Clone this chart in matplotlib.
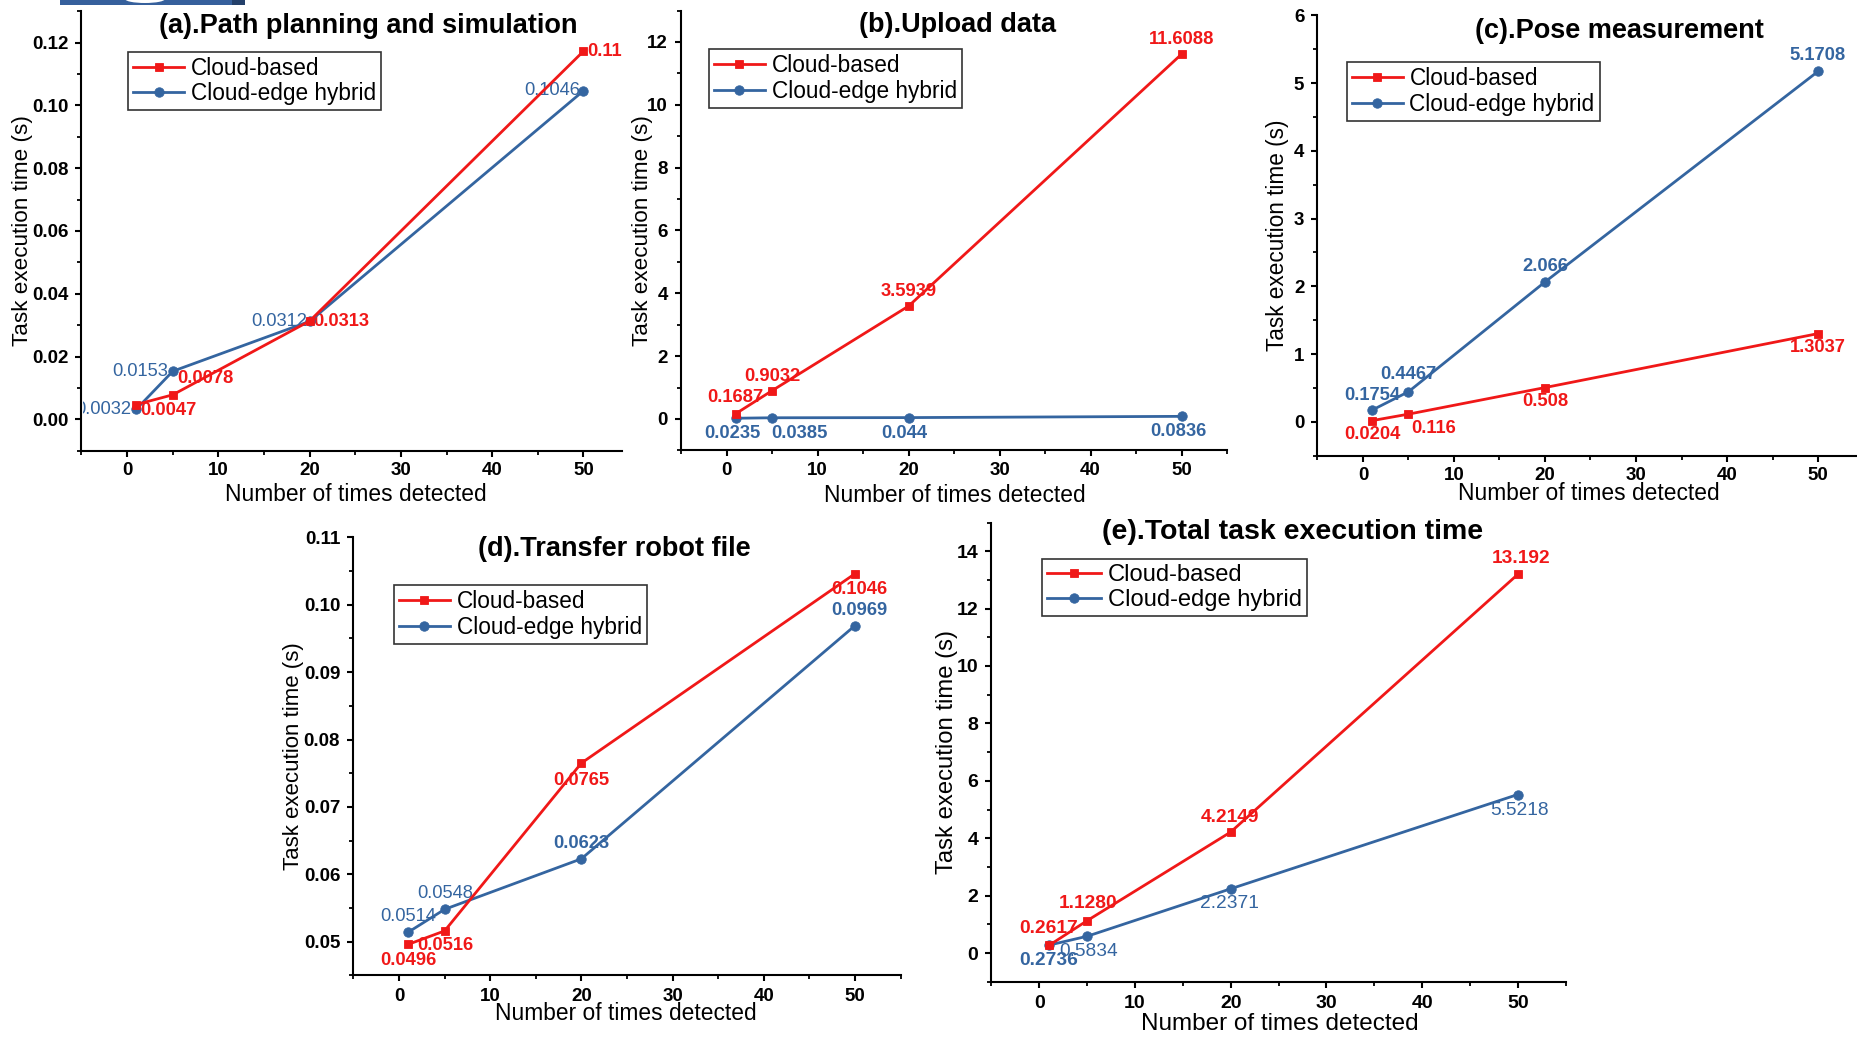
import matplotlib
matplotlib.use("Agg")
import matplotlib.pyplot as plt
from matplotlib.ticker import MultipleLocator
from matplotlib.patches import Rectangle, Ellipse
from matplotlib.transforms import Bbox, TransformedBbox

plt.rcParams['font.family'] = ['Liberation Sans', 'DejaVu Sans']

# ---------------- data ----------------
x_detect = [1, 5, 20, 50]
x_ticks = [0, 10, 20, 30, 40, 50]
series_names = ['Cloud-based', 'Cloud-edge hybrid']

# (a) Path planning and simulation
a_title = '(a).Path planning and simulation'
a_cloud = [0.0047, 0.0078, 0.0313, 0.1172]
a_hybrid = [0.0032, 0.0153, 0.0312, 0.1046]
a_cloud_lbl = ['0.0047', '0.0078', '0.0313', '0.11']
a_hybrid_lbl = ['0.0032', '0.0153', '0.0312', '0.1046']
a_yticks = [0.00, 0.02, 0.04, 0.06, 0.08, 0.10, 0.12]
a_yticklabels = ['0.00', '0.02', '0.04', '0.06', '0.08', '0.10', '0.12']

# (b) Upload data
b_title = '(b).Upload data'
b_cloud = [0.1687, 0.9032, 3.5939, 11.6088]
b_hybrid = [0.0235, 0.0385, 0.044, 0.0836]
b_cloud_lbl = ['0.1687', '0.9032', '3.5939', '11.6088']
b_hybrid_lbl = ['0.0235', '0.0385', '0.044', '0.0836']
b_yticks = [0, 2, 4, 6, 8, 10, 12]
b_yticklabels = ['0', '2', '4', '6', '8', '10', '12']

# (c) Pose measurement
c_title = '(c).Pose measurement'
c_cloud = [0.0204, 0.116, 0.508, 1.3037]
c_hybrid = [0.1754, 0.4467, 2.066, 5.1708]
c_cloud_lbl = ['0.0204', '0.116', '0.508', '1.3037']
c_hybrid_lbl = ['0.1754', '0.4467', '2.066', '5.1708']
c_yticks = [0, 1, 2, 3, 4, 5, 6]
c_yticklabels = ['0', '1', '2', '3', '4', '5', '6']

# (d) Transfer robot file
d_title = '(d).Transfer robot file'
d_cloud = [0.0496, 0.0516, 0.0765, 0.1046]
d_hybrid = [0.0514, 0.0548, 0.0623, 0.0969]
d_cloud_lbl = ['0.0496', '0.0516', '0.0765', '0.1046']
d_hybrid_lbl = ['0.0514', '0.0548', '0.0623', '0.0969']
d_yticks = [0.05, 0.06, 0.07, 0.08, 0.09, 0.10, 0.11]
d_yticklabels = ['0.05', '0.06', '0.07', '0.08', '0.09', '0.10', '0.11']

# (e) Total task execution time
e_title = '(e).Total task execution time'
e_cloud = [0.2617, 1.1280, 4.2149, 13.192]
e_hybrid = [0.2736, 0.5834, 2.2371, 5.5218]
e_cloud_lbl = ['0.2617', '1.1280', '4.2149', '13.192']
e_hybrid_lbl = ['0.2736', '0.5834', '2.2371', '5.5218']
e_yticks = [0, 2, 4, 6, 8, 10, 12, 14]
e_yticklabels = ['0', '2', '4', '6', '8', '10', '12', '14']

ylabel_text = 'Task execution time (s)'
xlabel_text = 'Number of times detected'

# ---------------- style / layout ----------------
RED = '#F01818'
BLUE = '#3465A0'
W, H = 1858, 1037

fig = plt.figure(figsize=(W / 100, H / 100), dpi=100)
fig.patch.set_facecolor('white')

# small cropped banner at the very top-left of the original picture
fig.patches.append(Rectangle((60 / W, 1 - 4.5 / H), 185 / W, 4.5 / H, transform=fig.transFigure,
                             facecolor='#36609C', edgecolor='none'))
fig.patches.append(Rectangle((232 / W, 1 - 4.5 / H), 13 / W, 4.5 / H, transform=fig.transFigure,
                             facecolor='#24406A', edgecolor='none'))
fig.patches.append(Ellipse((145 / W, 1 + 1 / H), 40 / W, 8 / H, transform=fig.transFigure,
                           facecolor='white', edgecolor='none'))

panels = [
    dict(title=a_title, cloud=a_cloud, hybrid=a_hybrid, clbl=a_cloud_lbl, hlbl=a_hybrid_lbl,
         yticks=a_yticks, yticklabels=a_yticklabels, minor=0.01,
         box=(81.5, 621.7, 11.1, 450.7), xlim=(-5, 54.2), ylim=(-0.01, 0.13),
         title_px=(368, 26), title_fs=19.5, leg_px=(128.3, 51.7), leg_fs=16.3,
         ylab_x=22.5, ylab_fs=16.2, xlab_px=(355.5, 494.5), xlab_fs=16.4,
         tick_fs=13.5, xpad=3.8, ann_fs=13.2,
         coff=[(4.5, -5.5, 'left'), (5, 16, 'left'), (4, 0, 'left'), (3.5, 0, 'left')],
         hoff=[(-5, 0, 'right'), (-5, 0, 'right'), (-2, 0, 'right'), (-3, 0, 'right')],
         hw=['normal'] * 4, clip_first_hybrid=True),
    dict(title=b_title, cloud=b_cloud, hybrid=b_hybrid, clbl=b_cloud_lbl, hlbl=b_hybrid_lbl,
         yticks=b_yticks, yticklabels=b_yticklabels, minor=1,
         box=(681.2, 1227.0, 10.5, 450.4), xlim=(-5, 55), ylim=(-1, 13),
         title_px=(958, 25), title_fs=19.5, leg_px=(709, 49.3), leg_fs=16.3,
         ylab_x=642.6, ylab_fs=16.2, xlab_px=(954.6, 495), xlab_fs=16.4,
         tick_fs=13.5, xpad=3.8, ann_fs=13.2,
         coff=[(0, 16, 'center'), (0, 14, 'center'), (0, 15, 'center'), (0, 15, 'center')],
         hoff=[(-3, -15.5, 'center'), (-1, -15.5, 'left'), (-4, -15.5, 'center'), (-3, -15.5, 'center')],
         hw=['bold'] * 4, clip_first_hybrid=False),
    dict(title=c_title, cloud=c_cloud, hybrid=c_hybrid, clbl=c_cloud_lbl, hlbl=c_hybrid_lbl,
         yticks=c_yticks, yticklabels=c_yticklabels, minor=0.5,
         box=(1317.5, 1863.5, 15.2, 455.9), xlim=(-5, 55), ylim=(-0.5, 6),
         title_px=(1619.6, 31), title_fs=19.5, leg_px=(1346.7, 62.3), leg_fs=16.3,
         ylab_x=1277.5, ylab_fs=16.3, xlab_px=(1589, 493), xlab_fs=16.4,
         tick_fs=13.5, xpad=3.5, ann_fs=13.2,
         coff=[(0, -14, 'center'), (3, -14, 'left'), (0, -14, 'center'), (0, -14, 'center')],
         hoff=[(0, 15, 'center'), (0, 17, 'center'), (0, 15, 'center'), (0, 16, 'center')],
         hw=['bold'] * 4, clip_first_hybrid=False),
    dict(title=d_title, cloud=d_cloud, hybrid=d_hybrid, clbl=d_cloud_lbl, hlbl=d_hybrid_lbl,
         yticks=d_yticks, yticklabels=d_yticklabels, minor=0.005,
         box=(353.4, 900.6, 537.3, 975.4), xlim=(-5, 55), ylim=(0.045, 0.11),
         title_px=(614.7, 549), title_fs=19.5, leg_px=(393.9, 585), leg_fs=16.3,
         ylab_x=293.6, ylab_fs=16.0, xlab_px=(626, 1013), xlab_fs=16.4,
         tick_fs=13.5, xpad=4.4, ann_fs=13.2,
         coff=[(0, -16, 'center'), (1, -15, 'center'), (0, -17, 'center'), (4, -16, 'center')],
         hoff=[(0, 16, 'center'), (1, 16, 'center'), (0, 15, 'center'), (4, 15, 'center')],
         hw=['normal', 'normal', 'bold', 'bold'], clip_first_hybrid=False),
    dict(title=e_title, cloud=e_cloud, hybrid=e_hybrid, clbl=e_cloud_lbl, hlbl=e_hybrid_lbl,
         yticks=e_yticks, yticklabels=e_yticklabels, minor=1,
         box=(991.5, 1565.6, 522.5, 981.7), xlim=(-5, 55), ylim=(-1, 15),
         title_px=(1292.6, 532), title_fs=20.5, leg_px=(1042, 559), leg_fs=17.1,
         ylab_x=947.4, ylab_fs=17.2, xlab_px=(1280, 1024), xlab_fs=17.5,
         tick_fs=14, xpad=5.0, ann_fs=13.8,
         coff=[(0, 17, 'center'), (1, 17, 'center'), (-1, 15, 'center'), (3, 16, 'center')],
         hoff=[(0, -15.5, 'center'), (1, -15.5, 'center'), (-1, -14.5, 'center'), (2, -16, 'center')],
         hw=['bold', 'normal', 'normal', 'normal'], clip_first_hybrid=False),
]


def fx(px):
    return px / W


def fy(py):
    return 1 - py / H


for p in panels:
    l, r, t, b = p['box']
    ax = fig.add_axes([l / W, 1 - b / H, (r - l) / W, (b - t) / H])
    ax.set_facecolor('none')
    ax.set_xlim(*p['xlim'])
    ax.set_ylim(*p['ylim'])

    for side in ('top', 'right'):
        ax.spines[side].set_visible(False)
    for side in ('left', 'bottom'):
        ax.spines[side].set_linewidth(1.5)
        ax.spines[side].set_color('black')

    ax.set_xticks(x_ticks)
    ax.set_xticklabels([str(v) for v in x_ticks], fontweight='bold', fontsize=p['tick_fs'])
    ax.set_yticks(p['yticks'])
    ax.set_yticklabels(p['yticklabels'], fontweight='bold', fontsize=p['tick_fs'])
    ax.xaxis.set_minor_locator(MultipleLocator(5))
    ax.yaxis.set_minor_locator(MultipleLocator(p['minor']))
    ax.tick_params(which='major', direction='out', length=4.5, width=1.5, color='black')
    ax.tick_params(which='minor', direction='out', length=3.0, width=1.3, color='black')
    ax.tick_params(axis='y', which='major', pad=5)
    ax.tick_params(axis='x', which='major', pad=p['xpad'])

    lc, = ax.plot(x_detect, p['cloud'], color=RED, lw=2.0, marker='s', markersize=6.2,
                  markeredgewidth=0.6, label=series_names[0], zorder=4, clip_on=False)
    lh, = ax.plot(x_detect, p['hybrid'], color=BLUE, lw=2.0, marker='o', markersize=6.8,
                  markeredgewidth=0.6, label=series_names[1], zorder=3, clip_on=False)

    for xi, yi, txt, (dx, dy, ha) in zip(x_detect, p['cloud'], p['clbl'], p['coff']):
        ax.annotate(txt, xy=(xi, yi), xytext=(dx, dy), textcoords='offset pixels',
                    ha=ha, va='center', color=RED, fontsize=p['ann_fs'], fontweight='bold',
                    zorder=2, annotation_clip=False)
    for k, (xi, yi, txt, (dx, dy, ha)) in enumerate(zip(x_detect, p['hybrid'], p['hlbl'], p['hoff'])):
        an = ax.annotate(txt, xy=(xi, yi), xytext=(dx, dy), textcoords='offset pixels',
                         ha=ha, va='center', color=BLUE, fontsize=p['ann_fs'],
                         fontweight=p['hw'][k], zorder=2, annotation_clip=False)
        if k == 0 and p['clip_first_hybrid']:
            # the original picture hides the leading "0" behind the y axis
            an.set_clip_box(TransformedBbox(Bbox([[(l + 2.0) / W, 0], [1, 1]]), fig.transFigure))
            an.set_clip_on(True)

    # title (inside the plotting frame, as in the original)
    tx, ty = p['title_px']
    fig.text(fx(tx), fy(ty), p['title'], ha='center', va='center',
             fontsize=p['title_fs'], fontweight='bold')

    # axis labels
    ax.set_ylabel(ylabel_text, fontsize=p['ylab_fs'], va='center')
    ax.yaxis.set_label_coords((p['ylab_x'] - l) / (r - l), 0.5)
    xlx, xly = p['xlab_px']
    ax.set_xlabel(xlabel_text, fontsize=p['xlab_fs'], va='center')
    ax.xaxis.set_label_coords((xlx - l) / (r - l), (b - xly) / (b - t))

    # legend
    lx, ly = p['leg_px']
    leg = ax.legend(handles=[lc, lh], loc='upper left', bbox_to_anchor=(fx(lx), fy(ly)),
                    bbox_transform=fig.transFigure, borderaxespad=0, fontsize=p['leg_fs'],
                    frameon=True, fancybox=False, framealpha=1, edgecolor='#333333',
                    handlelength=2.25, handletextpad=0.3, borderpad=0.22, labelspacing=0.12)
    leg.get_frame().set_linewidth(1.2)
    leg.set_zorder(5)

fig.savefig('out.png', dpi=100, facecolor='white')
